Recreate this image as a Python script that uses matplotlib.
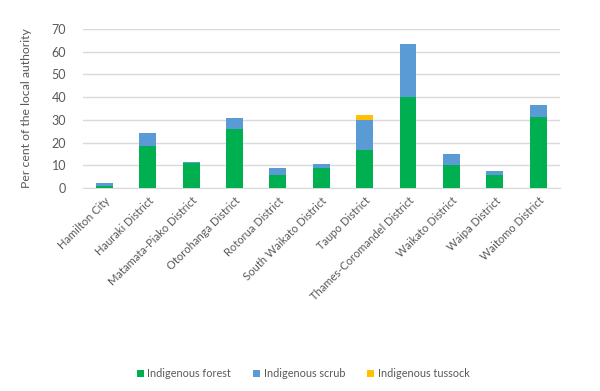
import matplotlib
matplotlib.use("Agg")
import matplotlib.pyplot as plt
import numpy as np

categories = ["Hamilton City", "Hauraki District", "Matamata-Piako District",
              "Otorohanga District", "Rotorua District", "South Waikato District",
              "Taupo District", "Thames-Coromandel District", "Waikato District",
              "Waipa District", "Waitomo District"]
forest = [0.9, 18.7, 10.9, 25.9, 5.7, 9.0, 16.9, 40.0, 10.1, 5.7, 31.3]
scrub = [1.2, 5.6, 0.7, 4.8, 3.3, 1.6, 13.0, 23.2, 4.8, 1.8, 5.2]
tussock = [0, 0, 0, 0, 0, 0, 2.3, 0, 0, 0, 0]
yticks = [0, 10, 20, 30, 40, 50, 60, 70]

plt.rcParams['font.family'] = ['Lato', 'DejaVu Sans']
txt = '#595959'

fig = plt.figure(figsize=(6, 3.91), dpi=100)
ax = fig.add_axes([0.138, 0.519, 0.795, 0.407])
x = np.arange(len(categories))
w = 0.39
f = np.array(forest); s = np.array(scrub); t = np.array(tussock)
ax.bar(x, f, w, color='#00B050', label='Indigenous forest', zorder=3)
ax.bar(x, s, w, bottom=f, color='#5B9BD5', label='Indigenous scrub', zorder=3)
ax.bar(x, t, w, bottom=f + s, color='#FFC000', label='Indigenous tussock', zorder=3)

ax.set_xlim(-0.5, len(categories) - 0.5)
ax.set_ylim(0, 70)
ax.set_yticks(yticks)
ax.yaxis.grid(True, color='#D9D9D9', linewidth=1, zorder=0)
for sp in ['top', 'right', 'left']:
    ax.spines[sp].set_visible(False)
ax.spines['bottom'].set_color('#D9D9D9')
ax.tick_params(axis='both', length=0, colors=txt, labelsize=8)
ax.tick_params(axis='y', pad=12, labelsize=9)
ax.set_xticks(x)
ax.set_xticklabels(categories, rotation=45, ha='right', rotation_mode='anchor')
ax.tick_params(axis='x', pad=5)
ax.set_ylabel('Per cent of the local authority', color=txt, fontsize=8.8, labelpad=14)

h, l = ax.get_legend_handles_labels()
fig.legend(h, l, loc='center', bbox_to_anchor=(0.505, 0.044), ncol=3, frameon=False,
           fontsize=7.8, handlelength=0.7, handleheight=0.7, handletextpad=0.3,
           columnspacing=2.0, labelcolor=txt)

fig.savefig('out.png', dpi=100)
